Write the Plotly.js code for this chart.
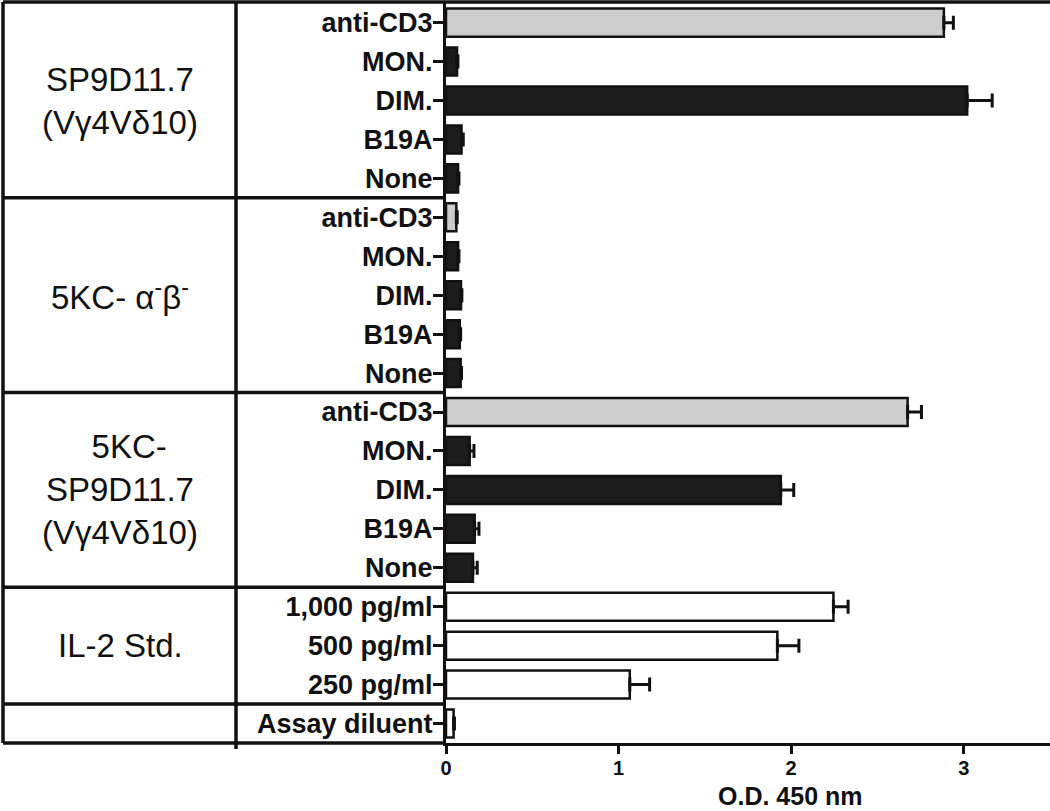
<!DOCTYPE html>
<html>
<head>
<meta charset="utf-8">
<script src="https://cdn.plot.ly/plotly-3.0.1.min.js"></script>
<style>
  html, body { margin: 0; padding: 0; background: #fff; }
  #myDiv { width: 1050px; height: 811px; }
</style>
</head>
<body>
<div id="myDiv"></div>
<script>
// rows, top to bottom
var rowLabels = ['anti-CD3', 'MON.', 'DIM.', 'B19A', 'None',
                 'anti-CD3', 'MON.', 'DIM.', 'B19A', 'None',
                 'anti-CD3', 'MON.', 'DIM.', 'B19A', 'None',
                 '1,000 pg/ml', '500 pg/ml', '250 pg/ml', 'Assay diluent'];
// O.D. 450 nm means
var odValues = [2.885, 0.064, 3.02, 0.09, 0.07,
                0.06, 0.07, 0.087, 0.08, 0.085,
                2.675, 0.137, 1.94, 0.166, 0.156,
                2.245, 1.92, 1.065, 0.044];
// upper error (SD)
var odErrors = [0.055, 0.005, 0.145, 0.01, 0.005,
                0.005, 0.005, 0.005, 0.005, 0.005,
                0.08, 0.025, 0.075, 0.025, 0.025,
                0.085, 0.125, 0.115, 0.005];
var xTicks = [0, 1, 2, 3];
// groups shown in the left-hand table
var groupNames = ['SP9D11.7<br>(V\u03b34V\u03b410)',
                  '5KC- \u03b1<sup>-</sup>\u03b2<sup>-</sup>',
                  '\u00a0\u00a05KC-<br>SP9D11.7<br>(V\u03b34V\u03b410)',
                  'IL-2 Std.',
                  ''];
var groupSizes = [5, 5, 5, 3, 1];

var FONT = "'Liberation Sans', Arial, Helvetica, sans-serif";
var L = 446, W = 604, B = 68;  // plot area left edge, width, bottom margin (px)
function px(x) { return (x - L) / W; }

var rowIdx = rowLabels.map(function (d, i) { return i; });

// fill colour: anti-CD3 grey, IL-2 standards/diluent white, stimuli black
var groupOfRow = [];
groupSizes.forEach(function (n, g) { for (var k = 0; k < n; k++) groupOfRow.push(g); });
var fills = rowLabels.map(function (lab, i) {
  if (groupOfRow[i] >= 3) return '#ffffff';
  if (lab === 'anti-CD3') return '#cccccc';
  return '#1c1c1c';
});

var data = [{
  type: 'bar',
  orientation: 'h',
  x: odValues,
  y: rowIdx,
  width: 0.72,
  marker: { color: fills, line: { color: '#111', width: 2.5 } },
  error_x: {
    type: 'data',
    array: odErrors,
    arrayminus: odErrors.map(function () { return 0; }),
    symmetric: false,
    color: '#111',
    thickness: 3,
    width: 7
  },
  hoverinfo: 'x+text',
  text: rowLabels,
  textposition: 'none'
}];

// table lines + group names
var shapes = [];
var annotations = [];
var line = { color: '#111', width: 3.5 };
shapes.push({ type: 'line', xref: 'paper', yref: 'paper', x0: px(3), x1: 1, y0: 1, y1: 1, line: line });
shapes.push({ type: 'line', xref: 'paper', yref: 'paper', x0: px(3), x1: 0, y0: 0, y1: 0, line: line });
shapes.push({ type: 'line', xref: 'paper', yref: 'paper', x0: px(3), x1: px(3), y0: 0, y1: 1, line: line });
shapes.push({ type: 'line', xref: 'paper', yref: 'paper', x0: px(236), x1: px(236), y0: -0.008, y1: 1, line: line });

var start = 0;
groupSizes.forEach(function (n, g) {
  var end = start + n;
  if (g < groupSizes.length - 1) {
    shapes.push({ type: 'line', xref: 'paper', yref: 'y', x0: px(3), x1: 0,
                  y0: end - 0.5, y1: end - 0.5, line: line });
  }
  if (groupNames[g]) {
    annotations.push({
      xref: 'paper', yref: 'y', x: px(120), y: start + (n - 1) / 2,
      text: groupNames[g], showarrow: false, align: 'center',
      xanchor: 'center', yanchor: 'middle',
      font: { family: FONT, size: 33, color: '#111' }
    });
  }
  start = end;
});

// axis title sits low and off-centre, as in the figure
annotations.push({
  xref: 'paper', yref: 'paper', x: px(790), y: -B / 741,
  text: '<b>O.D. 450 nm</b>', showarrow: false, xanchor: 'center', yanchor: 'bottom',
  borderpad: 0,
  font: { family: FONT, size: 25, color: '#111' }
});

var layout = {
  width: 1050,
  height: 811,
  margin: { l: L, r: 0, t: 2, b: B },
  font: { family: FONT, size: 20, color: '#111' },
  paper_bgcolor: '#fff',
  plot_bgcolor: '#fff',
  showlegend: false,
  xaxis: {
    range: [0, 3.5],
    tickmode: 'array',
    tickvals: xTicks,
    ticktext: xTicks.map(function (t) { return '<b>' + t + '</b>'; }),
    showgrid: false,
    zeroline: false,
    showline: true,
    linecolor: '#111',
    linewidth: 3,
    ticks: 'outside',
    ticklen: 8,
    tickwidth: 3,
    tickcolor: '#111',
    ticklabelstandoff: -3,
    tickfont: { family: FONT, size: 20, color: '#111' },
    fixedrange: true
  },
  yaxis: {
    range: [18.5, -0.53],
    tickmode: 'array',
    tickvals: rowIdx,
    ticktext: rowLabels.map(function (t) { return '<b>' + t + '</b>'; }),
    showgrid: false,
    zeroline: false,
    showline: true,
    linecolor: '#111',
    linewidth: 3,
    ticks: 'outside',
    ticklen: 10,
    tickwidth: 3,
    tickcolor: '#111',
    ticklabelstandoff: -5,
    tickfont: { family: FONT, size: 27, color: '#111' },
    fixedrange: true
  },
  shapes: shapes,
  annotations: annotations
};

Plotly.newPlot('myDiv', data, layout, { displayModeBar: false, staticPlot: true });
</script>
</body>
</html>
